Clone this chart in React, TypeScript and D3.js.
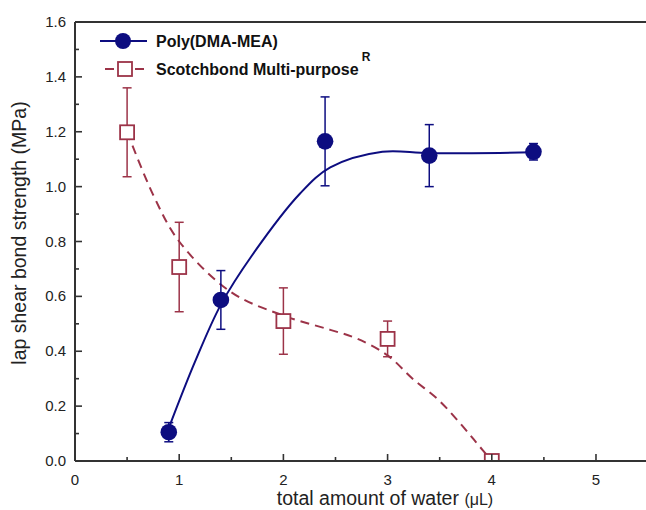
import React from "react";
import * as d3 from "d3";

const polyX = [0.9, 1.4, 2.4, 3.4, 4.4];
const polyY = [0.105, 0.587, 1.165, 1.113, 1.127];
const polyErr = [0.035, 0.107, 0.162, 0.113, 0.03];
const polyFitX = [0.9, 1.15, 1.4, 1.7, 2.16, 2.45, 2.95, 3.4, 4.4];
const polyFitY = [0.12, 0.36, 0.57, 0.75, 0.975, 1.07, 1.127, 1.122, 1.125];

const scotX = [0.5, 1.0, 2.0, 3.0, 4.0];
const scotY = [1.198, 0.707, 0.51, 0.445, 0.0];
const scotErr = [0.162, 0.163, 0.121, 0.065, 0.0];
const scotFitX = [0.5, 0.75, 1.0, 1.5, 2.0, 2.45, 2.7, 3.0, 3.24, 3.49, 3.69, 3.85, 4.0];
const scotFitY = [1.2, 0.97, 0.8, 0.615, 0.53, 0.478, 0.447, 0.385, 0.3, 0.222, 0.14, 0.068, 0.0];

const xTicks = [0, 1, 2, 3, 4, 5];
const yTicks = [0, 0.2, 0.4, 0.6, 0.8, 1.0, 1.2, 1.4, 1.6];
const legendLabels = ["Poly(DMA-MEA)", "Scotchbond Multi-purpose"];

const BLUE = "#0d0d80";
const RED = "#9c3348";
const AX = "#333";
const FONT = "Arial, 'Liberation Sans', sans-serif";

export default function App() {
  const left = 75, right = 646, top = 22, bottom = 461;
  const x = d3.scaleLinear().domain([0, 5.48]).range([left, right]);
  const y = d3.scaleLinear().domain([0, 1.6]).range([bottom, top]);

  const line = d3
    .line<[number, number]>()
    .x((d) => x(d[0]))
    .y((d) => y(d[1]))
    .curve(d3.curveCatmullRom.alpha(0.5));

  const polyFit = polyFitX.map((v, i) => [v, polyFitY[i]] as [number, number]);
  const scotFit = scotFitX.map((v, i) => [v, scotFitY[i]] as [number, number]);

  const xMinor = d3.range(0.5, 5.5, 1);
  const yMinor = d3.range(0.1, 1.6, 0.2);

  return (
    <svg
      width={646}
      height={510}
      style={{ position: "absolute", left: 0, top: 0, background: "#fff" }}
      fontFamily={FONT}
    >
      <defs>
        <clipPath id="plotclip">
          <rect x={left} y={top} width={right - left} height={bottom - top} />
        </clipPath>
      </defs>

      <g clipPath="url(#plotclip)">
        <path d={line(scotFit) || ""} fill="none" stroke={RED} strokeWidth={2} strokeDasharray="9,6" />
        <path d={line(polyFit) || ""} fill="none" stroke={BLUE} strokeWidth={2} />

        {scotX.map((v, i) =>
          scotErr[i] > 0 ? (
            <g key={"se" + i} stroke={RED} strokeWidth={1.5}>
              <line x1={x(v)} x2={x(v)} y1={y(scotY[i] + scotErr[i])} y2={y(scotY[i] - scotErr[i])} />
              <line x1={x(v) - 4.5} x2={x(v) + 4.5} y1={y(scotY[i] + scotErr[i])} y2={y(scotY[i] + scotErr[i])} />
              <line x1={x(v) - 4.5} x2={x(v) + 4.5} y1={y(scotY[i] - scotErr[i])} y2={y(scotY[i] - scotErr[i])} />
            </g>
          ) : null
        )}
        {scotX.map((v, i) => (
          <rect key={"sq" + i} x={x(v) - 7} y={y(scotY[i]) - 7} width={14} height={14} fill="#fff" stroke={RED} strokeWidth={1.8} />
        ))}

        {polyX.map((v, i) => (
          <g key={"pe" + i} stroke={BLUE} strokeWidth={1.5}>
            <line x1={x(v)} x2={x(v)} y1={y(polyY[i] + polyErr[i])} y2={y(polyY[i] - polyErr[i])} />
            <line x1={x(v) - 4.5} x2={x(v) + 4.5} y1={y(polyY[i] + polyErr[i])} y2={y(polyY[i] + polyErr[i])} />
            <line x1={x(v) - 4.5} x2={x(v) + 4.5} y1={y(polyY[i] - polyErr[i])} y2={y(polyY[i] - polyErr[i])} />
          </g>
        ))}
        {polyX.map((v, i) => (
          <circle key={"pc" + i} cx={x(v)} cy={y(polyY[i])} r={8.3} fill={BLUE} />
        ))}
      </g>

      <line x1={left} x2={right} y1={top} y2={top} stroke={AX} strokeWidth={2} />
      <line x1={left} x2={right} y1={bottom} y2={bottom} stroke={AX} strokeWidth={2} />
      <line x1={left} x2={left} y1={top} y2={bottom} stroke={AX} strokeWidth={2} />

      {xTicks.map((t) => (
        <g key={"xt" + t}>
          <line x1={x(t)} x2={x(t)} y1={bottom} y2={bottom - 7} stroke={AX} strokeWidth={1.6} />
          <text x={x(t)} y={bottom + 24} textAnchor="middle" fontSize={15} fill="#222">
            {t}
          </text>
        </g>
      ))}
      {xMinor.map((t) => (
        <line key={"xm" + t} x1={x(t)} x2={x(t)} y1={bottom} y2={bottom - 4} stroke={AX} strokeWidth={1.6} />
      ))}

      {yTicks.map((t) => (
        <g key={"yt" + t}>
          <line x1={left} x2={left + 7} y1={y(t)} y2={y(t)} stroke={AX} strokeWidth={1.6} />
          <text x={left - 9} y={y(t) + 5} textAnchor="end" fontSize={15} fill="#222">
            {t.toFixed(1)}
          </text>
        </g>
      ))}
      {yMinor.map((t) => (
        <line key={"ym" + t} x1={left} x2={left + 4} y1={y(t)} y2={y(t)} stroke={AX} strokeWidth={1.6} />
      ))}

      <text x={385} y={505} textAnchor="middle" fontSize={19.5} fill="#222">
        total amount of water <tspan fontSize={16}>(μL)</tspan>
      </text>
      <text transform={`translate(26, 233) rotate(-90)`} textAnchor="middle" fontSize={19.5} fill="#222">
        lap shear bond strength (MPa)
      </text>

      <line x1={100} x2={147} y1={41} y2={41} stroke={BLUE} strokeWidth={2} />
      <circle cx={123} cy={41} r={8} fill={BLUE} />
      <text x={156} y={47} fontSize={16} fontWeight="bold" fill="#111">
        {legendLabels[0]}
      </text>
      <line x1={104} x2={147} y1={69} y2={69} stroke={RED} strokeWidth={2} strokeDasharray="9,6" strokeDashoffset={-1} />
      <rect x={118} y={62} width={14} height={14} fill="#fff" stroke={RED} strokeWidth={1.8} />
      <text x={156} y={75} fontSize={16} fontWeight="bold" fill="#111">
        {legendLabels[1]}
        <tspan dy={-14} dx={3} fontSize={12}>
          R
        </tspan>
      </text>
    </svg>
  );
}
